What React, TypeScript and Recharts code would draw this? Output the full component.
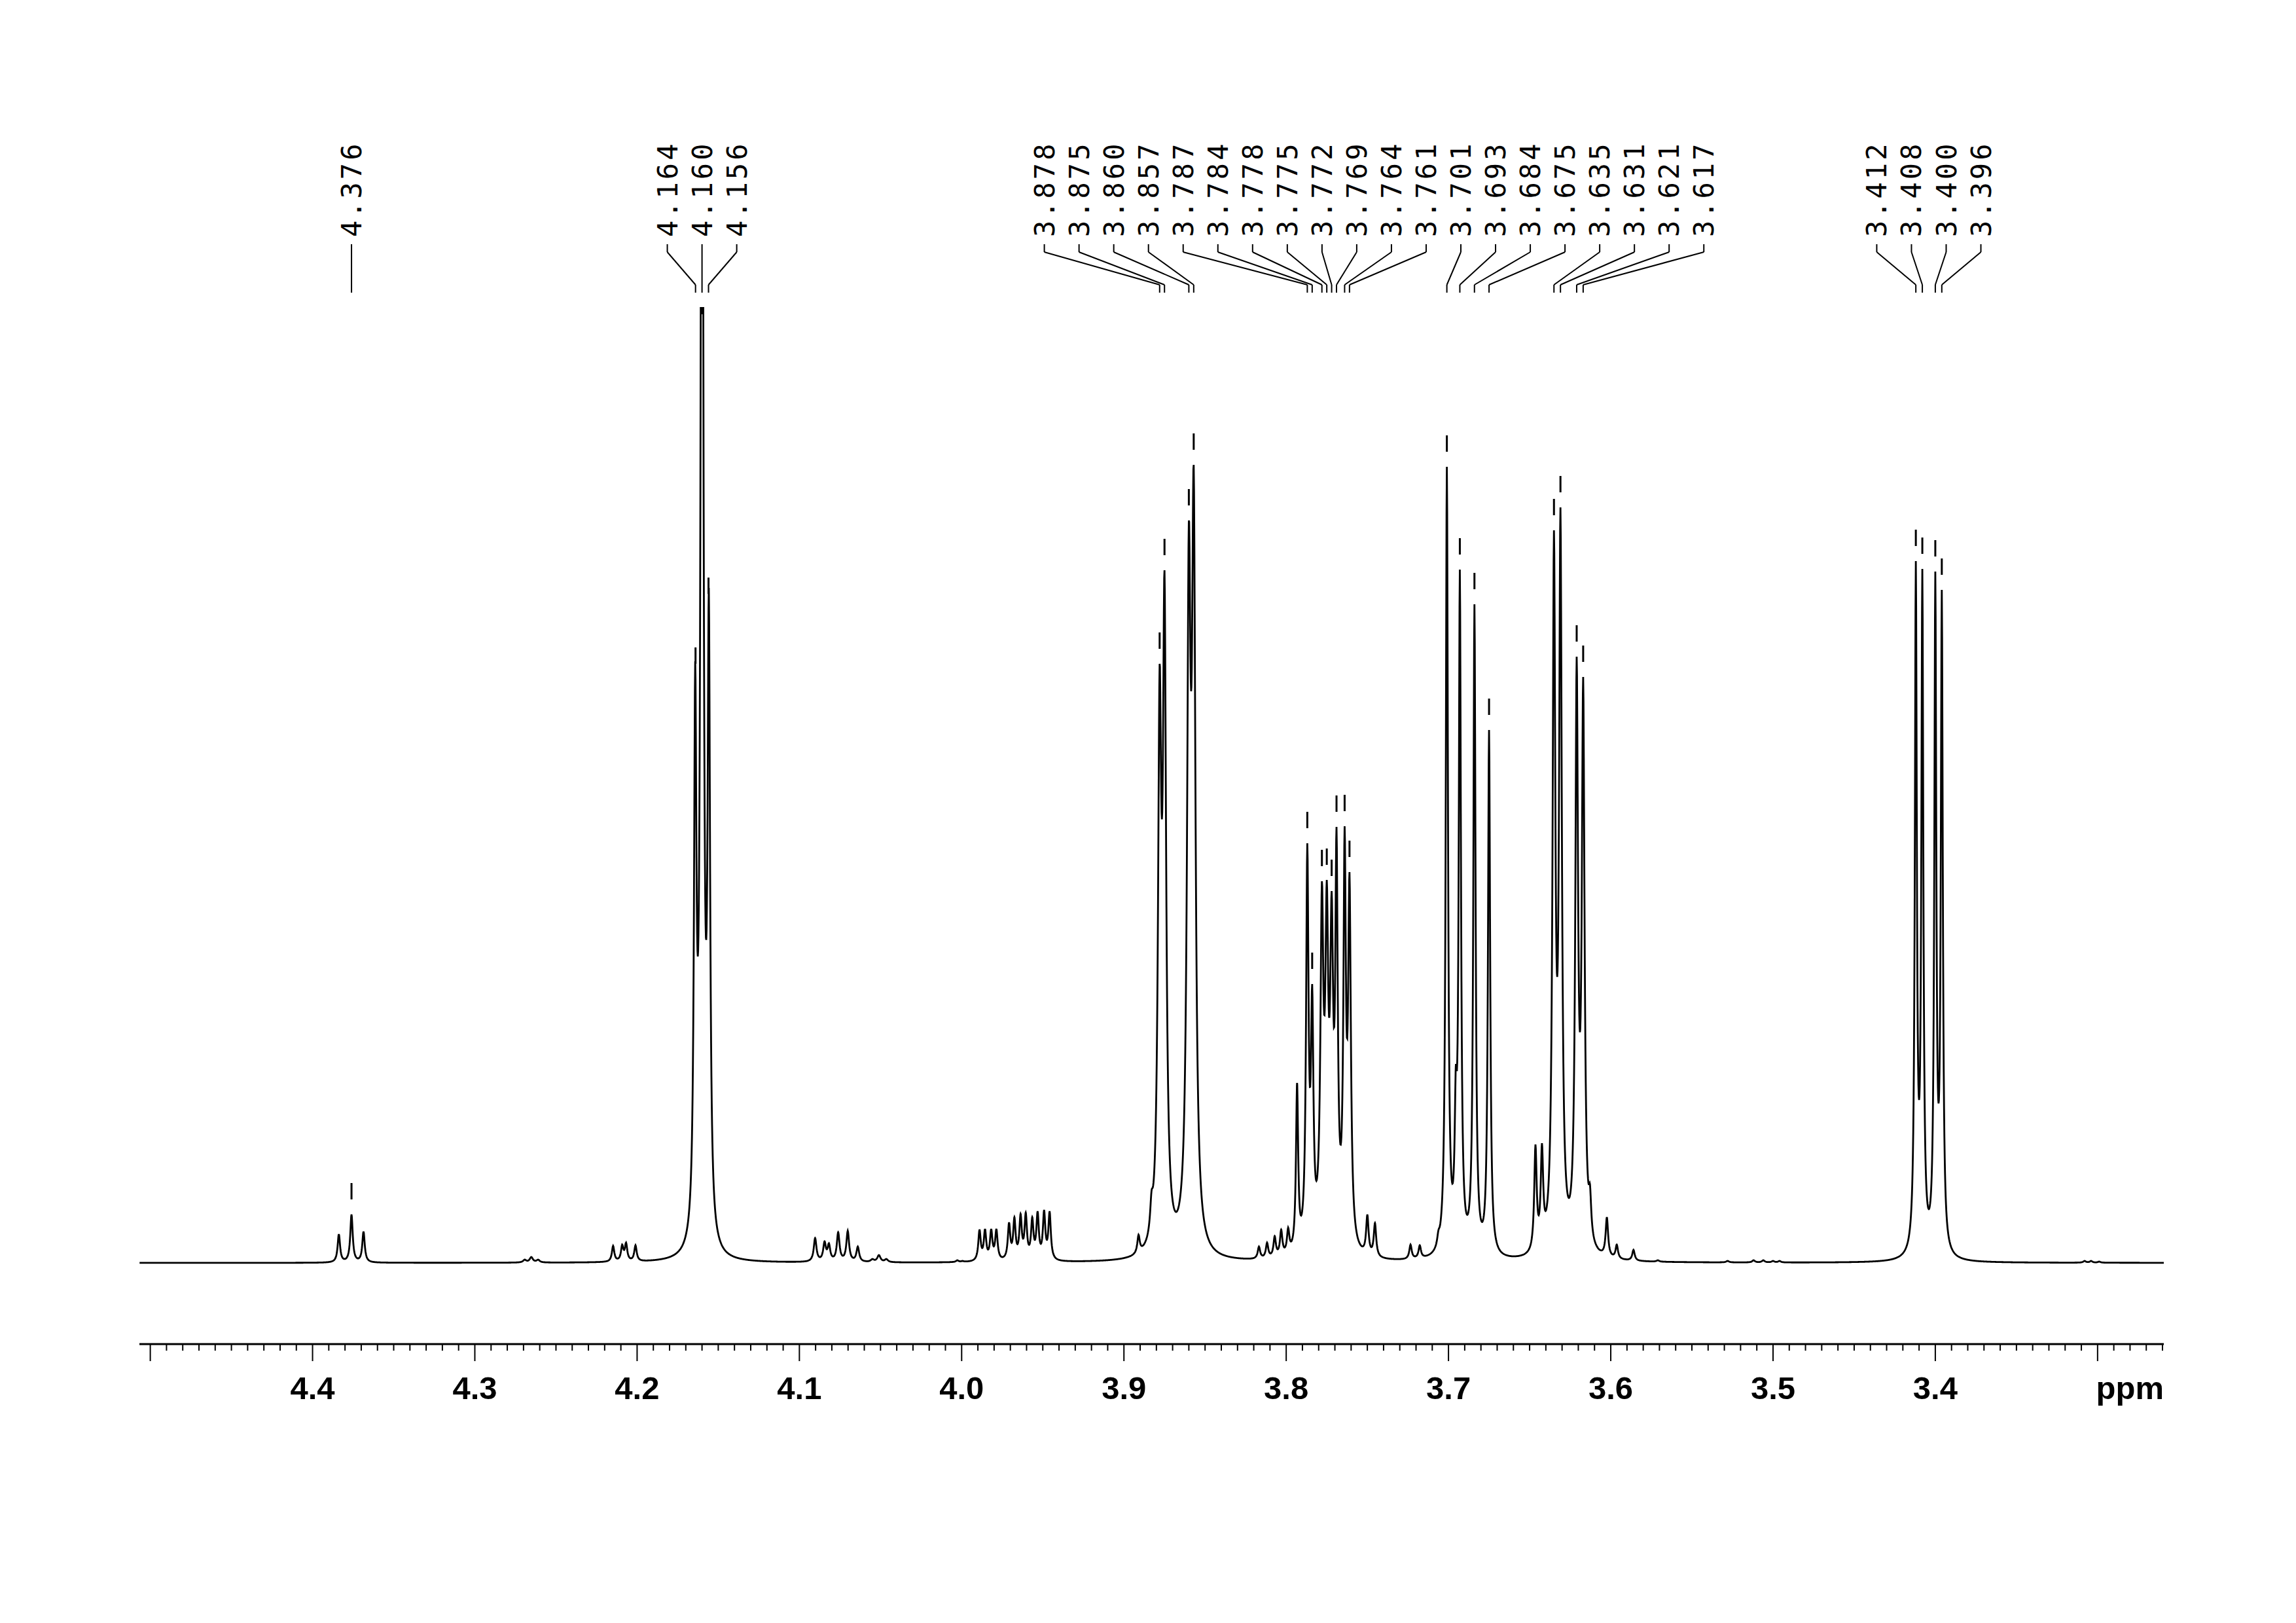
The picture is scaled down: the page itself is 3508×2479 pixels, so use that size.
import React from "react";
import { LineChart, Line, XAxis, YAxis, ReferenceLine, ReferenceDot } from "recharts";

// peak positions (ppm), height of the trace at each position, half-width (ppm)
const peakPpm = [
  4.3838, 4.376, 4.3686, 4.2693, 4.2652, 4.261, 4.2148, 4.2092, 4.2068, 4.201,
  4.1642, 4.16, 4.1558, 4.0903, 4.0845, 4.0818, 4.0761, 4.0702, 4.064, 4.055,
  4.051, 4.0464, 4.0027, 3.9995, 3.989, 3.9856, 3.9818, 3.9786, 3.9708, 3.9675,
  3.9637, 3.9605, 3.9565, 3.9532, 3.9492, 3.9458, 3.891, 3.883, 3.878, 3.875,
  3.86, 3.857, 3.8168, 3.8118, 3.8071, 3.8031, 3.7988, 3.7933, 3.787, 3.784,
  3.778, 3.775, 3.772, 3.769, 3.764, 3.761, 3.75, 3.7453, 3.7234, 3.7177,
  3.7062, 3.701, 3.6955, 3.693, 3.684, 3.675, 3.6464, 3.6424, 3.635, 3.631,
  3.621, 3.617, 3.6128, 3.6024, 3.5963, 3.586, 3.571, 3.528, 3.512, 3.506,
  3.5, 3.496, 3.412, 3.408, 3.4, 3.396, 3.308, 3.304, 3.299,
];
const peakHeight = [
  44, 74, 48, 5, 9, 5, 26, 28, 31, 27,
  919, 2500, 1031, 38, 33, 30, 47, 49, 25, 6,
  12, 6, 4, 3, 51, 52, 52, 52, 62, 70,
  75, 77, 70, 79, 81, 79, 43, 110, 915, 1058,
  1134, 1219, 25, 31, 41, 51, 54, 275, 641, 426,
  583, 585, 568, 666, 667, 597, 74, 61, 28, 27,
  50, 1216, 300, 1059, 1006, 814, 181, 183, 1119, 1154,
  926, 895, 120, 70, 28, 20, 4, 3, 4, 4,
  3, 3, 1072, 1060, 1056, 1028, 3, 3, 2,
];
const peakWidth = [
  0.0009, 0.0009, 0.0009, 0.0012, 0.0012, 0.0012, 0.0009, 0.0009, 0.0009, 0.0009,
  0.0009, 0.0009, 0.0009, 0.001, 0.001, 0.001, 0.001, 0.001, 0.001, 0.0012,
  0.0012, 0.0012, 0.001, 0.001, 0.0009, 0.0009, 0.0009, 0.0009, 0.0009, 0.0009,
  0.0009, 0.0009, 0.0009, 0.0009, 0.0009, 0.0009, 0.0009, 0.001, 0.0012, 0.0012,
  0.0013, 0.0013, 0.0009, 0.0009, 0.0009, 0.0009, 0.0009, 0.0008, 0.0009, 0.0009,
  0.0011, 0.0011, 0.0011, 0.0009, 0.0009, 0.001, 0.0009, 0.0009, 0.0009, 0.0009,
  0.0009, 0.0008, 0.0008, 0.0008, 0.0008, 0.0008, 0.0009, 0.0009, 0.001, 0.001,
  0.001, 0.001, 0.0009, 0.0009, 0.0009, 0.0009, 0.001, 0.001, 0.001, 0.001,
  0.001, 0.001, 0.00073, 0.00073, 0.00073, 0.00073, 0.001, 0.001, 0.001,
];

// peak-pick labels, one list per group
const labelGroups = [
  ["4.376"],
  ["4.164", "4.160", "4.156"],
  [
    "3.878", "3.875", "3.860", "3.857", "3.787", "3.784", "3.778", "3.775", "3.772", "3.769",
    "3.764", "3.761", "3.701", "3.693", "3.684", "3.675", "3.635", "3.631", "3.621", "3.617",
  ],
  ["3.412", "3.408", "3.400", "3.396"],
];

const tickLabels = ["4.4", "4.3", "4.2", "4.1", "4.0", "3.9", "3.8", "3.7", "3.6", "3.5", "3.4"];

const PPM_MIN = 3.2592;
const PPM_MAX = 4.5067;
const Y_MIN = -124;
const Y_MAX = 1460;
const LABEL_STEP = 0.02139;
const TEXT_Y = 1567;
const CONN = [1556, 1544, 1494, 1482];

const lorentz = (x: number, x0: number, w: number) => {
  const d = (x - x0) / w;
  return 1 / (1 + d * d);
};

// line amplitudes so that the trace height at each peak equals the value read
const amps = peakHeight.slice();
for (let it = 0; it < 200; it++) {
  for (let i = 0; i < peakPpm.length; i++) {
    let s = 0;
    for (let j = 0; j < peakPpm.length; j++) {
      if (j !== i) s += amps[j] * lorentz(peakPpm[i], peakPpm[j], peakWidth[j]);
    }
    amps[i] = Math.max(0, peakHeight[i] - s);
  }
}

const traceAt = (x: number) => {
  let s = 0;
  for (let j = 0; j < peakPpm.length; j++) s += amps[j] * lorentz(x, peakPpm[j], peakWidth[j]);
  return s;
};

const xs: number[] = [];
for (let x = PPM_MIN; x <= PPM_MAX; x += 0.0002) xs.push(x);
xs.push(...peakPpm);
xs.sort((a, b) => a - b);
const spectrum = xs.map((ppm) => ({ ppm, y: traceAt(ppm) }));

const ticks: number[] = [];
for (let k = 326; k <= 450; k++) ticks.push(k / 100);

const AxisTick = (props: any) => {
  const { x, y, payload } = props;
  const v = payload.value as number;
  const major = Math.abs(v * 10 - Math.round(v * 10)) < 1e-6;
  const label = tickLabels.find((t) => Math.abs(parseFloat(t) - v) < 1e-6);
  return (
    <g>
      <line x1={x} x2={x} y1={y} y2={y + (major ? 26 : 10)} stroke="#000" strokeWidth={2} />
      {label && (
        <text x={x} y={y + 84} textAnchor="middle" fontSize={49} fontWeight="bold"
          fontFamily="Liberation Sans, Arial, sans-serif" fill="#000">
          {label}
        </text>
      )}
    </g>
  );
};

const labels = labelGroups.flatMap((group) => {
  const peaks = group.map((t) => parseFloat(t));
  const mean = peaks.reduce((a, b) => a + b, 0) / peaks.length;
  return group.map((text, i) => ({
    text,
    peak: peaks[i],
    col: mean + ((group.length - 1) / 2 - i) * LABEL_STEP,
  }));
});

export default function App() {
  return (
    <div style={{ position: "absolute", left: 0, top: 0, width: 3508, height: 2479, background: "#fff" }}>
      <LineChart
        width={3508}
        height={2479}
        data={spectrum}
        margin={{ top: 469, right: 202, bottom: 326, left: 213 }}
      >
        <XAxis
          dataKey="ppm"
          type="number"
          domain={[PPM_MIN, PPM_MAX]}
          allowDataOverflow
          reversed
          ticks={ticks}
          interval={0}
          tick={<AxisTick />}
          tickLine={false}
          tickSize={0}
          tickMargin={0}
          height={100}
          axisLine={{ stroke: "#000", strokeWidth: 3 }}
          label={{
            content: (p: any) => (
              <text x={p.viewBox.x + p.viewBox.width} y={p.viewBox.y + 84} textAnchor="end"
                fontSize={49} fontWeight="bold" fontFamily="Liberation Sans, Arial, sans-serif" fill="#000">
                ppm
              </text>
            ),
          }}
        />
        <YAxis type="number" domain={[Y_MIN, Y_MAX]} allowDataOverflow hide />
        <Line
          type="linear"
          dataKey="y"
          stroke="#000"
          strokeWidth={2.8}
          dot={false}
          isAnimationActive={false}
        />
        {labels.map((l) => {
          const top = Math.min(traceAt(l.peak), Y_MAX - 34);
          return (
            <ReferenceLine key={`m${l.text}`} ifOverflow="hidden" stroke="#000" strokeWidth={3}
              segment={[{ x: l.peak, y: top + 23 }, { x: l.peak, y: top + 48 }]} />
          );
        })}
        {labels.map((l) => (
          <ReferenceLine key={`a${l.text}`} ifOverflow="visible" stroke="#000" strokeWidth={2}
            segment={[{ x: l.col, y: CONN[0] }, { x: l.col, y: CONN[1] }]} />
        ))}
        {labels.map((l) => (
          <ReferenceLine key={`b${l.text}`} ifOverflow="visible" stroke="#000" strokeWidth={2}
            segment={[{ x: l.col, y: CONN[1] }, { x: l.peak, y: CONN[2] }]} />
        ))}
        {labels.map((l) => (
          <ReferenceLine key={`c${l.text}`} ifOverflow="visible" stroke="#000" strokeWidth={2}
            segment={[{ x: l.peak, y: CONN[2] }, { x: l.peak, y: CONN[3] }]} />
        ))}
        {labels.map((l) => (
          <ReferenceDot
            key={`t${l.text}`}
            x={l.col}
            y={TEXT_Y}
            ifOverflow="visible"
            shape={(p: any) => (
              <text x={p.cx + 15} y={p.cy} transform={`rotate(-90 ${p.cx + 15} ${p.cy})`}
                fontSize={42} letterSpacing={4} fontFamily="DejaVu Sans Mono, monospace" fill="#000">
                {l.text}
              </text>
            )}
          />
        ))}
      </LineChart>
    </div>
  );
}
